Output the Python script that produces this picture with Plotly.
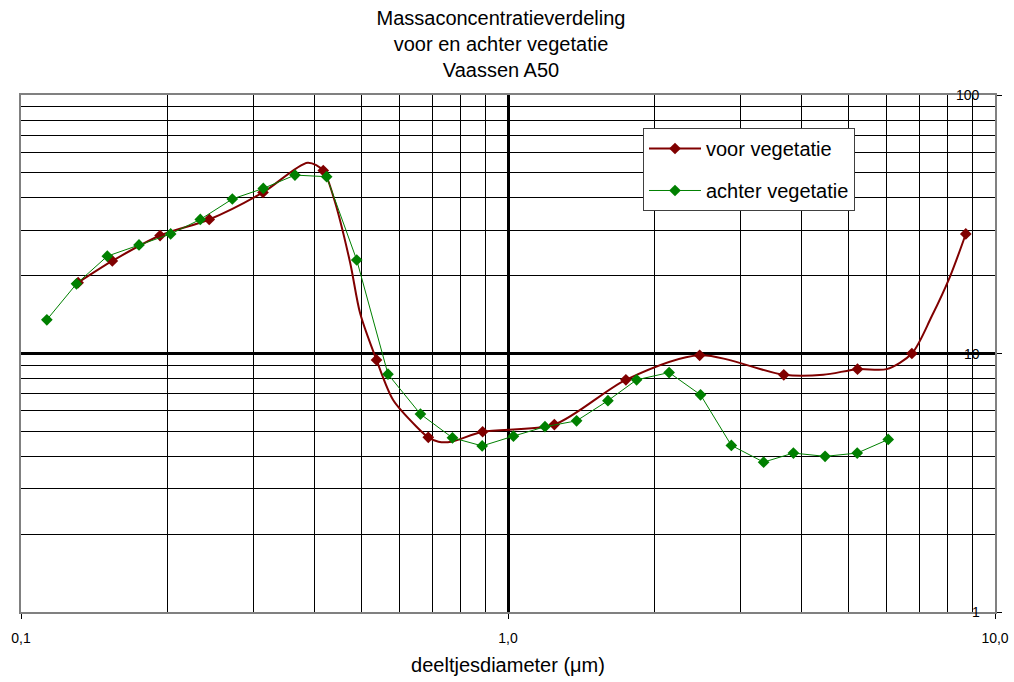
import math
import plotly.graph_objects as go

# ---- text ----
title_lines = ["Massaconcentratieverdeling", "voor en achter vegetatie", "Vaassen A50"]
x_title = "deeltjesdiameter (\u03bcm)"
series_names = ["voor vegetatie", "achter vegetatie"]

# ---- data: voor vegetatie (smoothed line, markers at measured points) ----
voor_x = [0.131, 0.154, 0.193, 0.2435, 0.314, 0.388, 0.4175, 0.438, 0.474, 0.497,
          0.537, 0.581, 0.649, 0.686, 0.72, 0.765, 0.887, 1.245, 1.746, 2.475,
          3.684, 4.44, 5.22, 5.99, 6.75, 7.41, 8.08, 8.71]
voor_y = [18.8, 22.8, 28.6, 33.0, 42.0, 54.7, 51.0, 40.4, 22.5, 14.3,
          9.44, 6.61, 5.21, 4.74, 4.56, 4.56, 4.98, 5.31, 7.91, 9.84,
          8.27, 8.27, 8.70, 8.70, 10.0, 13.9, 19.8, 29.0]
voor_marker = [1, 1, 1, 1, 1, 0, 1, 0, 0, 0,
               1, 0, 0, 1, 0, 0, 1, 1, 1, 1,
               1, 0, 1, 0, 1, 0, 0, 1]

# ---- data: achter vegetatie ----
achter_x = [0.113, 0.130, 0.1504, 0.1747, 0.2029, 0.2334, 0.2716, 0.3144, 0.3652, 0.4242,
            0.4891, 0.567, 0.661, 0.769, 0.885, 1.026, 1.191, 1.383, 1.604, 1.837,
            2.142, 2.485, 2.875, 3.349, 3.855, 4.478, 5.213, 6.036]
achter_y = [13.5, 18.6, 23.8, 26.3, 29.0, 33.0, 39.6, 43.5, 49.0, 48.3,
            23.0, 8.32, 5.83, 4.72, 4.39, 4.79, 5.21, 5.49, 6.57, 7.91,
            8.44, 6.92, 4.41, 3.80, 4.12, 4.00, 4.12, 4.65]

# ---- ticks ----
x_tickvals = [0.1, 1, 10]
x_ticktext = ["0,1", "1,0", "10,0"]
y_tickvals = [1, 10, 100]
y_ticktext = ["1", "10", "100"]

voor_color = "#800000"
achter_color = "#008000"
font_family = "Liberation Sans, Arial, sans-serif"

x_minor = [m * 10 ** e for e in (-1, 0) for m in range(2, 10)]
y_minor = [m * 10 ** e for e in (0, 1) for m in range(2, 10)]

fig = go.Figure()
fig.add_trace(go.Scatter(
    x=voor_x, y=voor_y, name=series_names[0], legendgroup="voor",
    mode="lines+markers",
    line=dict(color=voor_color, width=2, shape="spline", smoothing=0.8),
    marker=dict(symbol="diamond", size=9,
                color=[voor_color if m else "rgba(0,0,0,0)" for m in voor_marker],
                line=dict(width=0)),
))
fig.add_trace(go.Scatter(
    x=achter_x, y=achter_y, name=series_names[1], legendgroup="achter",
    mode="lines+markers",
    line=dict(color=achter_color, width=1),
    marker=dict(symbol="diamond", size=9, color=achter_color, line=dict(width=0)),
))

# y tick labels drawn just inside the right border, right-aligned (as in the reference)
y_label_annotations = [
    dict(text=t, xref="paper", x=0.9866, xanchor="right",
         yref="y", y=math.log10(v), yanchor="middle", showarrow=False,
         font=dict(size=14, family=font_family, color="black"))
    for v, t in zip(y_tickvals, y_ticktext)
]

fig.update_layout(
    width=1014, height=682,
    margin=dict(l=21, r=19, t=95, b=70),
    paper_bgcolor="white", plot_bgcolor="white",
    font=dict(family=font_family, color="black", size=14),
    title=dict(text="<br>".join(title_lines), font=dict(size=20, family=font_family),
               xref="paper", x=0.4928, xanchor="center",
               yref="container", y=0.963, yanchor="top"),
    showlegend=True,
    legend=dict(x=0.6386, y=0.9362, xanchor="left", yanchor="top",
                bgcolor="white", bordercolor="#404040", borderwidth=1,
                font=dict(size=20, family=font_family),
                traceorder="grouped", tracegroupgap=13, itemwidth=52),
    annotations=y_label_annotations,
)

fig.update_xaxes(
    type="log", range=[-1, 1],
    tickmode="array", tickvals=x_tickvals, ticktext=x_ticktext,
    ticks="outside", ticklen=5, tickcolor="black", ticklabelstandoff=7,
    tickfont=dict(size=14, family=font_family),
    showgrid=True, gridcolor="black", gridwidth=3,
    minor=dict(tickmode="array", tickvals=x_minor, showgrid=True,
               gridcolor="black", gridwidth=1, ticks=""),
    showline=True, mirror=True, linecolor="#808080", linewidth=2,
    title=dict(text=x_title, font=dict(size=20, family=font_family), standoff=13),
    automargin=False,
)
fig.update_yaxes(
    type="log", range=[0, 2], side="right",
    tickmode="array", tickvals=y_tickvals, ticktext=y_ticktext,
    showticklabels=False,
    ticks="outside", ticklen=5, tickcolor="black",
    showgrid=True, gridcolor="black", gridwidth=3,
    minor=dict(tickmode="array", tickvals=y_minor, showgrid=True,
               gridcolor="black", gridwidth=1, ticks=""),
    showline=True, mirror=True, linecolor="#808080", linewidth=2,
    automargin=False,
)

fig.write_html("out.html", config={"displayModeBar": False},
               post_script="document.body.style.margin='0px';document.body.style.overflow='hidden';")
